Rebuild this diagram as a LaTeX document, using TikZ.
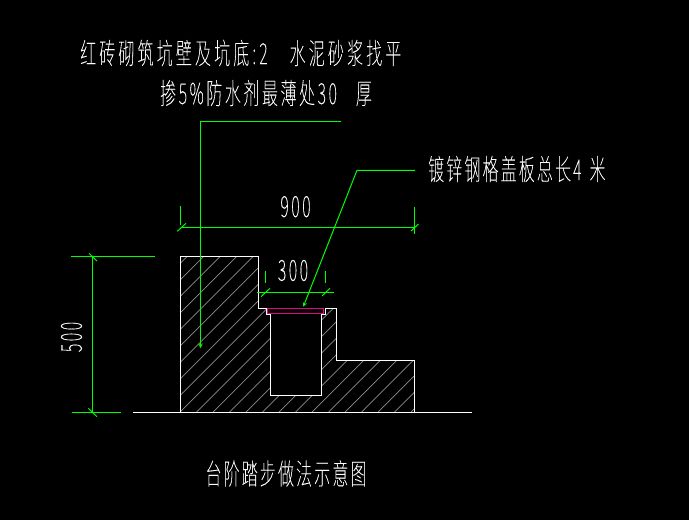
\documentclass[tikz,border=0pt]{standalone}
\usepackage{fontspec}
\newfontfamily\cjk[FakeStretch=0.55,LetterSpace=9,FakeBold=0.25]{Noto Sans CJK SC Thin}
\newfontfamily\cjkwide[FakeStretch=0.55,LetterSpace=11,FakeBold=0.25]{Noto Sans CJK SC Thin}
\newfontfamily\cjknarrow[FakeStretch=0.55,LetterSpace=7.5,FakeBold=0.25]{Noto Sans CJK SC Thin}
\usetikzlibrary{calc}
\tikzset{
    detail drawing/.style={
            x=1pt,y=-1pt,
            outline/.style={draw=white,line width=1pt},
            hatch/.style={draw=gray!90,line width=0.7pt},
            dim/.style={draw=green,line width=1pt},
            leader/.style={draw=green,line width=1pt,-stealth},
            cover/.style={draw=magenta,line width=1.2pt},
            label/.style={text=white,inner sep=0pt,font=\cjk\fontsize{29}{32}\selectfont}
        }
    }
\def\pitoutline{(180.5,412) -- (180.5,256) -- (258,256) -- (258,308) -- (266,308) -- (266,314.5) -- (270,314.5) -- (270,395) -- (321,395) -- (321,314.5) -- (325.5,314.5) -- (325.5,308) -- (336,308) -- (336,360) -- (414,360) -- (414,412) -- cycle}
\begin{document}
\begin{tikzpicture}[detail drawing]
    \fill [black] (0,0) rectangle (689,520);
    % hatching
    \begin{scope}
        \clip \pitoutline;
        \foreach \x in {31.7,48.2,...,420} {
            \draw [hatch] (\x,412) -- (\x+260,152);
        }
    \end{scope}
    \draw [outline] \pitoutline;
    \draw [outline] (133,412) -- (472,412);
    \draw [cover] (267.5,308.3) rectangle (323.7,313.7);
    % leaders
    \coordinate (wallend) at (341,121);
    \coordinate (wallbend) at (200.5,121);
    \coordinate (walltip) at (200.5,348);
    \coordinate (coverend) at (415,170.3);
    \coordinate (coverbend) at (357,170.3);
    \coordinate (covertip) at (303.3,306.7);
    \draw [leader] (wallend) -- (wallbend) -- (walltip);
    \draw [leader] (coverend) -- (coverbend) -- (covertip);
    % dimension 900
    \draw [dim] (180.5,227.3) -- (415,227.3);
    \draw [dim] (180.3,206) -- (180.3,225);
    \draw [dim] (414.7,207) -- (414.7,234);
    \draw [dim] (177.3,231.3) -- (186,223.3);
    \draw [dim] (411,231) -- (418.5,224);
    % dimension 300
    \draw [dim] (257.3,292.3) -- (333.7,292.3);
    \draw [dim] (265.3,271.3) -- (265.3,282.7);
    \draw [dim] (325.3,271.3) -- (325.3,282.7);
    \draw [dim] (261,296.7) -- (270,288.3);
    \draw [dim] (322,296) -- (330,288.3);
    % dimension 500
    \draw [dim] (92.3,256) -- (92.3,412);
    \draw [dim] (71,256) -- (155,256);
    \draw [dim] (72,412.3) -- (121,412.3);
    \draw [dim] (89,253.3) -- (97,261);
    \draw [dim] (88.3,408.3) -- (97,416.7);
    % texts
    \node (wallnote) [label,anchor=west,font=\cjkwide\fontsize{29}{32}\selectfont] at (80,53) {红砖砌筑坑壁及坑底:2\hspace{22pt}水泥砂浆找平};
    \node (mixnote) [label,anchor=west] at (160,93) {掺5\%防水剂最薄处30\hspace{19pt}厚};
    \node (covernote) [label,anchor=west,font=\cjknarrow\fontsize{29}{32}\selectfont] at (428,169) {镀锌钢格盖板总长4\hspace{8pt}米};
    \node (title) [label,font=\cjknarrow\fontsize{29}{32}\selectfont] at (286,473.5) {台阶踏步做法示意图};
    \node (dimnine) [label] at (295.5,206.7) {900};
    \node (dimthree) [label] at (293,270.5) {300};
    \node (dimfive) [label,rotate=90] at (71.5,337) {500};
\end{tikzpicture}
\end{document}
